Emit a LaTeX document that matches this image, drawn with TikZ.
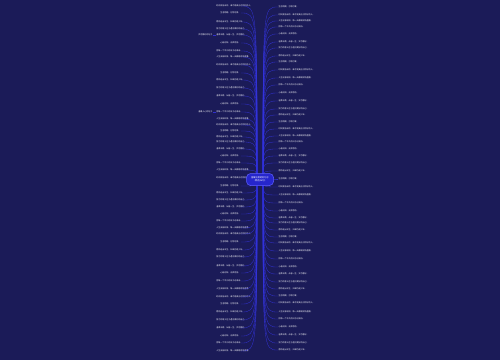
\documentclass[tikz,border=0pt]{standalone}
\usepackage{fontspec}
\newfontfamily\cjk{Noto Sans CJK SC}
\definecolor{bgnavy}{RGB}{27,27,88}
\definecolor{linkblue}{RGB}{52,52,225}
\definecolor{rootblue}{RGB}{38,38,205}
\definecolor{rootedge}{RGB}{95,95,255}
\newcommand\leaftext[1]{\ifcase#1 人生没有彩排，每一天都是现场直播。\or
  愿你走出半生，归来仍是少年。\or
  心若向阳，无畏悲伤。\or
  时间会告诉你，谁才是真正对你好的人。\or
  努力的意义在于遇见更好的自己。\or
  把每一个平凡的日子过成诗。\or
  生活明朗，万物可爱。\or
  温柔半两，从容一生，岁月静好。\fi}
\tikzset{
  leafleft/.style={anchor=east, text=white, font=\cjk\fontsize{2}{2.7}\selectfont,
    inner sep=0.4pt, text width=24pt, align=right},
  leafright/.style={anchor=west, text=white, font=\cjk\fontsize{2}{2.7}\selectfont,
    inner sep=0.4pt, text width=25pt, align=left},
  leafsub/.style={anchor=east, text=white, font=\cjk\fontsize{2}{2.7}\selectfont,
    inner sep=0.4pt},
  rootnode/.style={fill=rootblue, draw=rootedge, line width=0.5pt, rounded corners=4pt,
    text=white, font=\cjk\fontsize{2.2}{3}\selectfont, align=center,
    minimum width=27pt, minimum height=12pt, inner sep=1pt},
  link/.style={draw=linkblue, line width=0.35pt, opacity=0.85}
}
\begin{document}
\begin{tikzpicture}[x=1pt,y=-1pt]
  \fill[bgnavy] (0,0) rectangle (500,360);
  \coordinate (rootL) at (257,179);
  \coordinate (rootR) at (263,179);
  % left side
  \foreach \y [count=\i] in {6,13,22,29,35,43,51,57,65,73,80,88,96,104,112,119,125,131,
      137,142,149,156,163,170,178,186,193,200,207,214,221,228,234,242,250,257,266,273,
      281,289,297,304,312,320,328,336,343,351}{
    \pgfmathtruncatemacro\k{mod(\i*3,8)}
    \node[leafleft] (l\i) at (241,\y) {\leaftext{\k}};
    \draw[link] (rootL) .. controls (rootL |- l\i.east) .. (l\i.east);
  }
  % right side
  \foreach \y [count=\i] in {7,15,21,27,34,42,48,56,62,70,78,85,93,101,109,115,122,129,
      136,142,149,156,163,171,179,187,195,203,211,218,223,230,237,243,251,259,267,274,
      282,289,296,303,312,319,327,335,343,350}{
    \pgfmathtruncatemacro\k{mod(\i*5+1,8)}
    \node[leafright] (r\i) at (278,\y) {\leaftext{\k}};
    \draw[link] (rootR) .. controls (rootR |- r\i.west) .. (r\i.west);
  }
  % second level on the left
  \node[leafsub] (g1) at (213,35) {岁月静好的句子};
  \node[leafsub] (g2) at (213,112) {温暖人心的句子};
  \draw[link] (l5.west) -- (g1.east);
  \draw[link] (l15.west) -- (g2.east);
  \node[rootnode] (root) at (260,179.5) {温暖治愈的好句子\\（精选96句）};
\end{tikzpicture}
\end{document}
